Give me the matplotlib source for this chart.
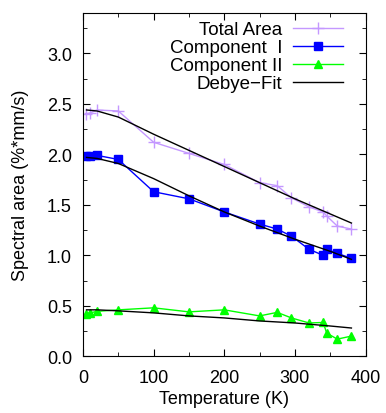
import matplotlib
matplotlib.use("Agg")
import matplotlib.pyplot as plt
from matplotlib.ticker import MultipleLocator

plt.rcParams['font.family'] = ['Liberation Sans', 'DejaVu Sans']
plt.rcParams['font.size'] = 13

# Data
T_total = [4, 10, 20, 50, 100, 150, 200, 250, 275, 295, 320, 340, 345, 360, 380]
total_area = [2.40, 2.41, 2.44, 2.43, 2.12, 2.01, 1.90, 1.72, 1.69, 1.57, 1.48, 1.43, 1.39, 1.29, 1.26]

T_comp = [4, 10, 20, 50, 100, 150, 200, 250, 275, 295, 320, 340, 345, 360, 380]
comp1 = [1.98, 1.98, 1.99, 1.95, 1.63, 1.56, 1.43, 1.31, 1.26, 1.19, 1.06, 1.00, 1.06, 1.02, 0.97]
comp2 = [0.42, 0.43, 0.445, 0.46, 0.48, 0.44, 0.46, 0.40, 0.435, 0.38, 0.33, 0.335, 0.23, 0.17, 0.20]

T_fit = [5, 20, 50, 100, 150, 200, 250, 300, 350, 380]
fit_total = [2.44, 2.43, 2.37, 2.20, 2.04, 1.88, 1.72, 1.56, 1.41, 1.32]
fit_comp1 = [1.97, 1.96, 1.91, 1.76, 1.59, 1.43, 1.29, 1.16, 1.04, 0.96]
fit_comp2 = [0.46, 0.46, 0.45, 0.43, 0.40, 0.38, 0.35, 0.33, 0.30, 0.28]

fig = plt.figure(figsize=(3.86, 4.14), dpi=100)
ax = fig.add_axes([0.215, 0.137, 0.732, 0.829])

ax.plot(T_total, total_area, color='#c498ff', marker='+', markersize=8, mew=1, lw=1, label='Total Area')
ax.plot(T_comp, comp1, color='#0000ff', marker='s', markersize=5.5, lw=1, label='Component  I')
ax.plot(T_comp, comp2, color='#00ff00', marker='^', markersize=5.5, lw=1, label='Component II')
ax.plot(T_fit, fit_total, color='black', lw=1, label='Debye\u2212Fit')
ax.plot(T_fit, fit_comp1, color='black', lw=1)
ax.plot(T_fit, fit_comp2, color='black', lw=1)

ax.set_xlim(0, 400)
ax.set_ylim(0, 3.4)
ax.xaxis.set_major_locator(MultipleLocator(100))
ax.xaxis.set_minor_locator(MultipleLocator(50))
ax.yaxis.set_major_locator(MultipleLocator(0.5))
ax.yaxis.set_minor_locator(MultipleLocator(0.25))
ax.yaxis.set_major_formatter(matplotlib.ticker.FormatStrFormatter('%.1f'))
ax.tick_params(which='both', direction='in', top=True, right=True, labelsize=13)
ax.tick_params(axis='y', which='major', length=5, pad=8)
ax.tick_params(axis='x', which='major', length=5, pad=9)
ax.tick_params(which='minor', length=3)

ax.set_xlabel('Temperature (K)', fontsize=13, labelpad=3)
ax.set_ylabel('Spectral area (%*mm/s)', fontsize=13, labelpad=13)

leg = ax.legend(loc='upper right', bbox_to_anchor=(0.920, 0.977), frameon=False,
                markerfirst=False, fontsize=13.5, handlelength=2.67, labelspacing=0.05,
                borderaxespad=0.0, handletextpad=0.58, borderpad=0.0)
for t in leg.get_texts():
    t.set_ha('right')

fig.savefig('out.png', dpi=100)
